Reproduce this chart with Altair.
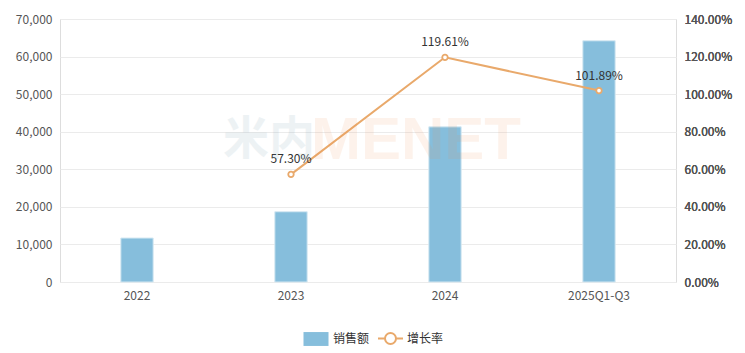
import altair as alt
import pandas as pd

years = ["2022", "2023", "2024", "2025Q1-Q3"]
sales = [11700, 18700, 41300, 64200]
growth = [None, 57.30, 119.61, 101.89]
growth_labels = ["", "57.30%", "119.61%", "101.89%"]

df = pd.DataFrame({
    "year": years,
    "sales": sales,
    "growth": growth,
    "glabel": growth_labels,
    "s1": ["销售额"] * 4,
    "s2": ["增长率"] * 4,
})
dline = df.dropna(subset=["growth"])

BLUE = "#86BEDC"
ORANGE = "#E9A96B"
FONT = "Noto Sans CJK SC"

x = alt.X("year:N", sort=years, title=None,
          scale=alt.Scale(paddingInner=0.79, paddingOuter=0.395),
          axis=alt.Axis(labelAngle=0, ticks=False, domain=False, labelPadding=8,
                        labelFontSize=12, labelColor="#555", labelFont=FONT, grid=False))

bars = alt.Chart(df).mark_bar(stroke="#D5E8F2", strokeWidth=1).encode(
    x=x,
    y=alt.Y("sales:Q", title=None,
            scale=alt.Scale(domain=[0, 70000]),
            axis=alt.Axis(values=list(range(0, 70001, 10000)), format=",d",
                          ticks=False, domain=False, labelPadding=8,
                          labelFontSize=12, labelColor="#555", labelFont=FONT,
                          grid=True, gridColor="#EBEBEB")),
    fill=alt.Fill("s1:N", scale=alt.Scale(range=[BLUE]),
                  legend=alt.Legend(title=None, orient="none", legendX=242, legendY=306,
                                    symbolType="M-0.9,-0.5 L0.9,-0.5 L0.9,0.5 L-0.9,0.5 Z",
                                    symbolSize=772, symbolStrokeWidth=0,
                                    labelFontSize=12, labelColor="#333", labelFont=FONT,
                                    labelOffset=3, padding=0)),
)

gy = alt.Y("growth:Q", title=None, scale=alt.Scale(domain=[0, 140]),
           axis=alt.Axis(orient="right", values=list(range(0, 141, 20)),
                         labelExpr="format(datum.value, '.2f') + '%'",
                         ticks=False, domain=False, labelPadding=8,
                         labelFontSize=12, labelColor="#555", labelFont=FONT, grid=False))

line = alt.Chart(dline).mark_line(strokeWidth=2).encode(
    x=x, y=gy,
    stroke=alt.Stroke("s2:N", scale=alt.Scale(range=[ORANGE]),
                      legend=alt.Legend(title=None, orient="none", legendX=317, legendY=306,
                                        symbolType="M-1,0 L-0.44,0 M0.44,0 L1,0 M-0.44,0 A0.44,0.44 0 1,1 0.44,0 A0.44,0.44 0 1,1 -0.44,0",
                                        symbolSize=625, symbolStrokeWidth=2,
                                        symbolFillColor="white",
                                        labelFontSize=12, labelColor="#333", labelFont=FONT,
                                        labelOffset=3, padding=0)),
)
pts = alt.Chart(dline).mark_point(shape="circle", size=30, filled=True, fill="white",
                                  stroke=ORANGE, strokeWidth=1.8, opacity=1).encode(x=x, y=gy)
labels = alt.Chart(dline).mark_text(dy=-15, fontSize=12, color="#333", font=FONT).encode(
    x=x, y=gy, text="glabel:N")

wm1 = alt.Chart(pd.DataFrame({"t": ["米内"]})).mark_text(
    fontSize=46, fontWeight="bold", font=FONT, color="#5B8BA0", opacity=0.1,
    align="left", baseline="middle").encode(x=alt.value(163), y=alt.value(121), text="t:N")
wm2 = alt.Chart(pd.DataFrame({"t": ["MENET"]})).mark_text(
    fontSize=60, fontWeight="bold", font="Liberation Sans", color="#F28C4A", opacity=0.1,
    align="left", baseline="middle").encode(x=alt.value(251), y=alt.value(122), text="t:N")

chart = alt.layer(bars, line, pts, labels, wm1, wm2).resolve_scale(
    y="independent", fill="independent", stroke="independent"
).properties(
    width=616, height=263,
    padding={"left": 60, "top": 19, "right": 69, "bottom": 71},
    autosize=alt.AutoSizeParams(type="none"),
).configure_view(stroke=None).configure(background="white")

chart.save("out.html", embed_options={"renderer": "svg", "actions": False})
